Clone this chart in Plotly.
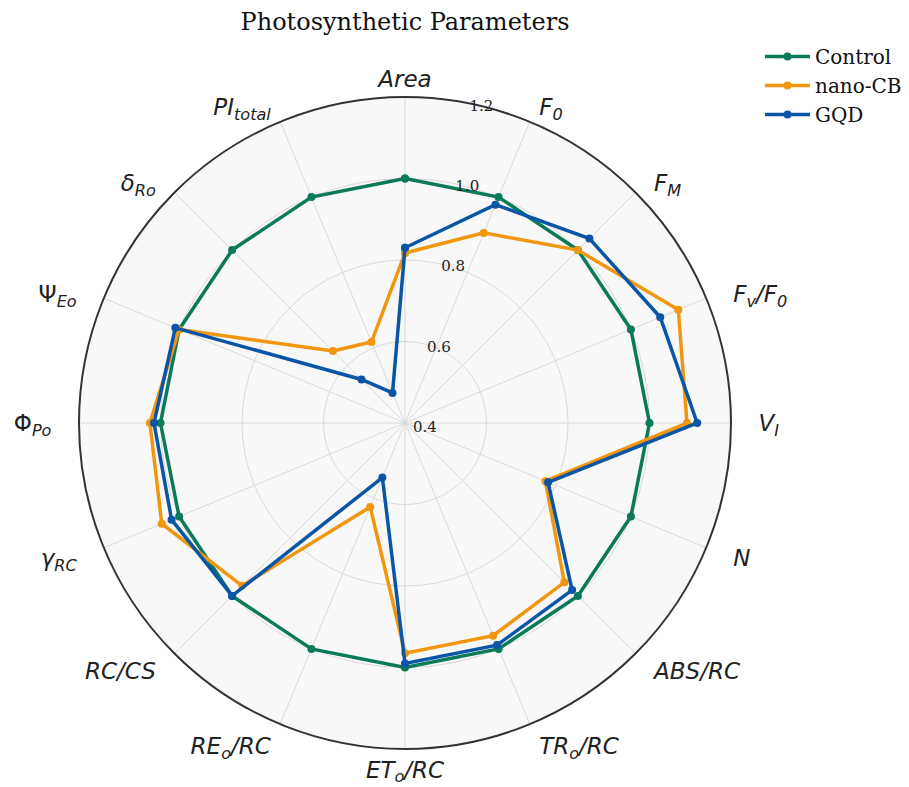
import plotly.graph_objects as go

S = "\u00a0"
categories = [
    "<i>Area</i>",
    S + "<i>F</i><sub><i>0</i></sub>",
    S * 2 + "<i>F</i><sub><i>M</i></sub>",
    S * 3 + "<i>F</i><sub><i>v</i></sub><i>/F</i><sub><i>0</i></sub>",
    S * 3 + "<i>V</i><sub><i>I</i></sub>",
    S * 3 + "<i>N</i>",
    S * 2 + "<i>ABS/RC</i>",
    S + "<i>TR</i><sub><i>o</i></sub><i>/RC</i>",
    "<i>ET</i><sub><i>o</i></sub><i>/RC</i>",
    "<i>RE</i><sub><i>o</i></sub><i>/RC</i>" + S,
    "<i>RC/CS</i>" + S * 2,
    "<i>γ</i><sub><i>RC</i></sub>" + S * 3,
    "Φ<sub><i>Po</i></sub>" + S * 3,
    "Ψ<sub><i>Eo</i></sub>" + S * 3,
    "<i>δ</i><sub><i>Ro</i></sub>" + S * 2,
    "<i>PI</i><sub><i>total</i></sub>" + S,
]

control = [1.0, 1.0, 1.0, 1.0, 1.0, 1.0, 1.0, 1.0, 1.0, 1.0, 1.0, 1.0, 1.0, 1.0, 1.0, 1.0]
nano_cb = [0.817, 0.905, 1.0, 1.126, 1.092, 0.773, 0.953, 0.965, 0.965, 0.623, 0.965, 1.046, 1.026, 1.0, 0.65, 0.615]
gqd = [0.83, 0.98, 1.04, 1.078, 1.117, 0.78, 0.98, 0.99, 0.99, 0.545, 1.0, 1.02, 1.016, 1.01, 0.551, 0.48]

series = [("Control", control, "#0a7a5a"), ("nano-CB", nano_cb, "#f0960f"), ("GQD", gqd, "#0a55a5")]

fig = go.Figure()
for name, vals, col in series:
    fig.add_trace(go.Scatterpolar(
        r=vals + vals[:1], theta=categories + categories[:1], name=name, mode="lines+markers",
        line=dict(color=col, width=3.5), marker=dict(color=col, size=8),
    ))

W, H = 909, 787
cx, cy, R = 405, 423, 326
fig.update_layout(
    width=W, height=H,
    margin=dict(l=0, r=0, t=0, b=0),
    paper_bgcolor="white",
    title=dict(text="Photosynthetic Parameters", x=cx / W, xanchor="center", y=1 - 22 / H, yanchor="middle",
               font=dict(family="DejaVu Serif", size=24, color="#111")),
    legend=dict(x=760 / W, y=1 - 37 / H, xanchor="left", yanchor="top",
                font=dict(family="DejaVu Serif", size=20, color="#111"), bgcolor="rgba(0,0,0,0)",
                tracegroupgap=0, itemwidth=45),
    polar=dict(
        domain=dict(x=[(cx - R) / W, (cx + R) / W], y=[1 - (cy + R) / H, 1 - (cy - R) / H]),
        bgcolor="#f8f8f8",
        angularaxis=dict(direction="clockwise", rotation=90, showline=True, linecolor="#333", linewidth=2,
                         gridcolor="#d9d9d9", gridwidth=1, ticks="",
                         tickfont=dict(family="DejaVu Sans", size=23, color="#222")),
        radialaxis=dict(range=[0.4, 1.2], tickvals=[0.4, 0.6, 0.8, 1.0, 1.2],
                        ticktext=["0.4", "0.6", "0.8", "1.0", "1.2"],
                        angle=80, tickangle=80, showline=False, ticks="",
                        gridcolor="#d9d9d9", gridwidth=1,
                        tickfont=dict(family="DejaVu Serif", size=15, color="#222")),
    ),
)

fig.write_html("out.html")
